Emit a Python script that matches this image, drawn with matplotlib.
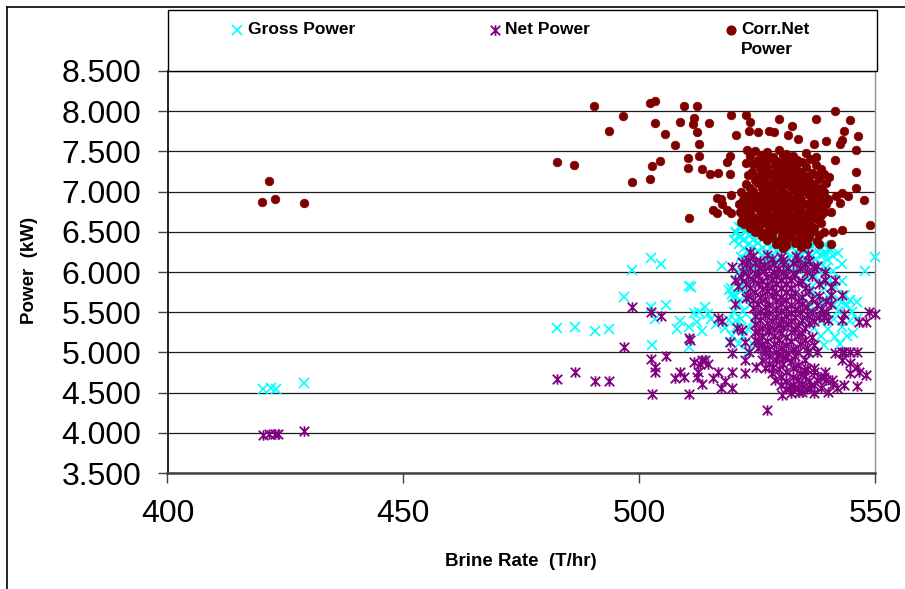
import matplotlib
matplotlib.use('Agg')
import matplotlib.pyplot as plt
from matplotlib.path import Path
from matplotlib.ticker import FuncFormatter, FixedLocator
from matplotlib.lines import Line2D
from matplotlib.patches import Rectangle

plt.rcParams['font.family'] = ['Liberation Sans', 'DejaVu Sans']

# ---------------- data ----------------
x_ticks = [400, 450, 500, 550]
y_ticks = [3500, 4000, 4500, 5000, 5500, 6000, 6500, 7000, 7500, 8000, 8500]
series_names = ["Gross Power", "Net Power", "Corr.Net\nPower"]

gross_pts = [
    (420.2, 4540), (421.9, 4553), (422.9, 4540), (429.0, 4622),
    (502.5, 6170), (504.7, 6103), (498.5, 6024), (510.6, 5829), (511.0, 5815),
    (496.7, 5684), (502.5, 5560), (505.6, 5585), (503.4, 5411), (482.6, 5300),
    (486.3, 5320), (490.6, 5262), (493.7, 5287), (508.6, 5395), (508.0, 5287),
    (510.5, 5312), (512.3, 5375), (512.6, 5506), (511.7, 5490), (502.8, 5096),
    (510.5, 5071), (513.4, 5265), (514.5, 5480), (516.2, 5350), (515.3, 5420),
    (550.0, 6187), (547.9, 6018), (546.2, 5630), (546.2, 5420), (545.4, 5240),
    (542.9, 5630), (542.9, 6100), (540.7, 6270), (517.6, 6070), (519.7, 5725),
    (521.6, 5830), (520.6, 5385), (519.2, 5130), (521.6, 6190), (544.8, 5651),
    (542.3, 5651), (539.2, 6230), (514.0, 5568), (520.0, 5694), (519.0, 5780),
    (521.1, 6440), (520.5, 6480), (522.6, 6500),
    (522.1, 6610), (524.2, 6590), (526.1, 6605), (528.2, 6595),
    (521.1, 6555), (523.2, 6545), (525.1, 6560), (527.2, 6540), (529.1, 6555), (531.2, 6545),
    (520.6, 6500), (522.6, 6510), (524.4, 6495), (526.6, 6505), (528.4, 6490), (530.6, 6505), (532.4, 6495),
    (521.6, 6450), (523.4, 6460), (525.6, 6445), (527.4, 6455), (529.6, 6440), (531.4, 6455), (533.6, 6445), (535.4, 6460),
    (520.1, 6400), (522.2, 6410), (524.1, 6395), (526.2, 6405), (528.1, 6390), (530.2, 6410), (532.1, 6395), (534.2, 6405), (536.1, 6390), (538.2, 6400),
    (521.2, 6350), (523.1, 6340), (525.2, 6355), (527.1, 6345), (529.2, 6360), (531.1, 6340), (533.2, 6355), (535.1, 6345), (537.2, 6350), (539.1, 6340),
    (522.2, 6300), (524.1, 6310), (526.2, 6295), (528.1, 6305), (530.2, 6290), (532.1, 6310), (534.2, 6295), (536.1, 6305), (538.6, 6300), (540.4, 6290),
    (523.1, 6250), (525.2, 6260), (527.1, 6245), (529.2, 6255), (531.1, 6240), (533.2, 6260), (535.1, 6245), (537.6, 6255), (539.4, 6250), (542.1, 6240),
    (524.2, 6200), (526.1, 6195), (528.2, 6210), (530.1, 6190), (532.2, 6205), (534.1, 6195), (536.6, 6200), (538.4, 6210), (541.1, 6195),
    (522.6, 6150), (525.1, 6145), (527.2, 6160), (529.1, 6140), (531.2, 6155), (533.1, 6145), (535.6, 6150), (537.4, 6160), (540.1, 6145),
    (523.4, 6100), (526.1, 6090), (528.2, 6110), (530.1, 6095), (532.2, 6105), (534.1, 6090), (536.2, 6100), (538.6, 6095),
    (522.1, 6050), (525.2, 6045), (527.6, 6060), (531.1, 6040), (535.2, 6055), (537.1, 6045), (539.6, 6050),
    (521.1, 6000), (523.6, 5995), (526.4, 6010), (533.1, 5990), (536.1, 6005), (538.2, 5995), (541.1, 6010),
    (520.6, 5900), (522.4, 5890), (535.6, 5910), (538.1, 5895), (540.4, 5905), (543.1, 5890),
    (519.4, 5800), (521.6, 5810), (523.4, 5795), (536.4, 5805), (539.1, 5795), (541.6, 5810),
    (520.6, 5700), (522.4, 5710), (534.6, 5695), (537.4, 5705), (540.1, 5690), (543.6, 5710),
    (521.1, 5600), (523.6, 5590), (536.1, 5610), (538.4, 5595), (541.2, 5605), (544.1, 5590),
    (520.1, 5500), (522.1, 5510), (525.1, 5495), (537.1, 5505), (539.6, 5490), (542.1, 5510), (545.1, 5500),
    (519.1, 5400), (521.6, 5410), (524.1, 5395), (535.6, 5405), (538.6, 5390), (541.4, 5410), (544.6, 5395),
    (518.1, 5300), (520.6, 5310), (523.1, 5290), (537.1, 5305), (540.1, 5295), (543.1, 5310),
    (519.6, 5200), (522.1, 5190), (538.6, 5205), (541.6, 5195), (544.1, 5210),
    (521.1, 5100), (524.1, 5110), (539.1, 5095), (542.6, 5105),
    (523.1, 5000), (527.1, 5010), (536.1, 4995),
]

net_pts = [
    (420.2, 3972), (421.6, 3990), (422.7, 3990), (423.4, 3985), (429.0, 4025),
    (498.5, 5568), (502.5, 5506), (504.7, 5450), (496.7, 5063), (482.6, 4672),
    (486.3, 4752), (490.6, 4640), (493.7, 4640), (502.5, 4917), (505.6, 4951),
    (503.4, 4822), (503.4, 4752), (502.8, 4478), (510.5, 4478), (510.5, 5176),
    (510.8, 5150), (508.6, 4752), (507.7, 4680), (509.6, 4700), (511.7, 4885),
    (512.5, 4760), (512.2, 4700), (513.3, 4610), (513.3, 4905),
    (517.5, 5395), (519.7, 6062), (521.9, 5282), (527.2, 4285), (548.1, 5378),
    (550.0, 5478), (548.1, 4718), (546.2, 5006), (546.2, 4815), (546.2, 4580),
    (542.9, 5718), (540.7, 5815), (540.7, 5720), (542.9, 5400), (542.9, 5000),
    (520.7, 5299), (519.3, 5133), (522.5, 5133), (525.3, 5133), (519.6, 4990),
    (514.0, 4905), (512.9, 4850), (514.6, 4850), (516.8, 4760), (519.6, 4760),
    (515.6, 4680), (518.1, 4640), (519.7, 4553), (517.3, 4560), (522.5, 4905),
    (522.5, 4740), (528.9, 4656), (530.3, 4470), (533.8, 4510), (532.0, 4580),
    (536.3, 4560), (537.8, 4660), (539.5, 4760), (540.9, 4660), (542.0, 4553),
    (543.4, 4600), (544.8, 4740), (546.6, 4760), (544.8, 4865), (543.0, 4905),
    (544.8, 5000), (543.4, 5000), (541.6, 4990), (546.6, 5382), (537.8, 5000),
    (535.7, 5000), (533.6, 5000), (537.1, 4800), (539.2, 4700), (535.0, 4780),
    (531.0, 4945), (528.3, 4820), (529.4, 4965), (526.5, 5030), (524.7, 4820),
    (523.3, 5000), (525.3, 5260), (527.4, 5260), (533.1, 4560), (534.6, 4590),
    (539.5, 6003), (541.6, 5905), (539.3, 5895), (537.6, 6070), (535.8, 6230),
    (521.8, 6130), (523.6, 6250), (520.4, 5900), (521.5, 5940), (516.8, 5424),
    (520.4, 5600), (521.0, 5820), (522.7, 5680), (548.7, 5506), (543.4, 5480),
    (539.2, 5440),
    (524.1, 6200), (527.2, 6215), (530.1, 6190), (533.2, 6205),
    (523.1, 6150), (525.6, 6140), (528.1, 6160), (530.6, 6145), (533.6, 6155), (536.1, 6140),
    (522.6, 6100), (524.6, 6110), (526.4, 6090), (528.6, 6105), (530.4, 6095), (532.6, 6110), (535.1, 6095),
    (523.6, 6050), (525.4, 6045), (527.6, 6060), (529.4, 6040), (531.6, 6055), (534.1, 6045), (537.1, 6055),
    (522.1, 6000), (524.6, 5990), (526.4, 6010), (528.6, 5995), (530.4, 6005), (532.6, 5990), (535.6, 6005),
    (523.1, 5950), (525.1, 5960), (527.1, 5940), (529.1, 5955), (531.1, 5945), (533.1, 5960), (536.6, 5945),
    (524.1, 5900), (526.1, 5890), (528.1, 5910), (530.1, 5895), (532.1, 5905), (534.6, 5890),
    (522.6, 5850), (525.1, 5860), (527.1, 5840), (529.1, 5855), (531.1, 5845), (533.6, 5860), (538.1, 5845),
    (523.6, 5800), (526.1, 5790), (528.1, 5810), (530.1, 5795), (532.1, 5805), (535.1, 5795),
    (524.6, 5750), (527.1, 5760), (529.1, 5740), (531.1, 5755), (533.1, 5745), (536.1, 5760),
    (523.1, 5700), (525.6, 5690), (528.1, 5710), (530.1, 5695), (532.1, 5705), (534.6, 5690), (538.1, 5705),
    (524.1, 5650), (526.6, 5660), (529.1, 5640), (531.1, 5655), (533.6, 5645), (536.6, 5660), (539.6, 5645),
    (525.1, 5600), (527.6, 5590), (530.1, 5610), (532.1, 5595), (534.6, 5605), (537.6, 5590), (540.6, 5605),
    (524.1, 5550), (526.6, 5560), (529.1, 5540), (531.1, 5555), (533.1, 5545), (535.6, 5560), (538.6, 5545),
    (525.6, 5500), (527.6, 5490), (530.1, 5510), (532.1, 5495), (534.1, 5505), (536.6, 5490), (539.6, 5505),
    (524.6, 5450), (526.6, 5460), (529.1, 5440), (531.1, 5455), (533.1, 5445), (535.6, 5460), (538.1, 5445),
    (525.6, 5400), (528.1, 5390), (530.1, 5410), (532.1, 5395), (534.6, 5405), (537.1, 5390), (540.1, 5405),
    (524.6, 5350), (527.1, 5360), (529.6, 5340), (531.6, 5355), (533.6, 5345), (536.1, 5360),
    (526.1, 5300), (528.6, 5290), (530.6, 5310), (533.1, 5295), (535.1, 5305),
    (524.6, 5250), (527.6, 5260), (530.1, 5240), (532.1, 5255), (534.6, 5245),
    (526.1, 5200), (528.6, 5210), (531.1, 5190), (533.6, 5205), (536.6, 5195),
    (524.6, 5150), (527.1, 5140), (529.6, 5160), (532.1, 5145), (535.1, 5155),
    (526.1, 5100), (528.6, 5110), (531.1, 5090), (534.1, 5105), (537.1, 5095),
    (525.1, 5050), (527.6, 5040), (530.1, 5060), (532.6, 5045), (535.6, 5055),
    (526.6, 5000), (529.1, 5010), (531.6, 4990),
    (527.6, 4950), (530.6, 4940), (533.1, 4960),
    (526.1, 4900), (529.1, 4910), (532.1, 4890), (535.1, 4905),
    (527.6, 4850), (530.6, 4860), (533.6, 4840),
    (526.6, 4800), (529.6, 4790), (532.6, 4810), (535.6, 4795),
    (528.1, 4750), (531.1, 4760), (534.1, 4740), (537.1, 4755),
    (530.1, 4700), (532.6, 4690), (535.1, 4710), (538.6, 4695),
    (531.1, 4650), (533.6, 4660), (536.1, 4640), (539.6, 4655),
    (530.1, 4600), (532.6, 4590), (534.6, 4610), (537.1, 4595), (541.1, 4605),
    (531.1, 4550), (533.6, 4560), (535.6, 4540), (538.6, 4555),
    (532.1, 4500), (534.6, 4510), (537.1, 4490), (540.1, 4505),
]

corr_pts = [
    (421.5, 7135), (420.0, 6874), (422.8, 6908), (428.9, 6862),
    (490.5, 8065), (502.4, 8098), (503.3, 8127), (509.5, 8065), (512.2, 8065),
    (496.6, 7936), (493.5, 7754), (503.4, 7853), (508.6, 7870), (511.6, 7920),
    (511.5, 7837), (505.5, 7720), (512.3, 7738), (507.6, 7576), (512.6, 7592),
    (482.5, 7364), (486.2, 7331), (504.5, 7380), (502.7, 7314), (510.3, 7414),
    (510.3, 7297), (512.6, 7446), (498.4, 7123), (502.4, 7153), (510.6, 6668),
    (514.7, 7853), (519.5, 7949), (522.6, 7949), (523.6, 7870), (520.5, 7704),
    (523.3, 7754), (525.3, 7737), (527.5, 7754), (528.5, 7737), (529.6, 7903),
    (532.4, 7820), (531.5, 7704), (533.6, 7658), (537.5, 7903), (541.6, 7999),
    (544.7, 7886), (543.4, 7754), (546.5, 7691), (543.0, 7642), (542.5, 7592),
    (539.6, 7624), (537.0, 7592), (546.0, 7513), (535.4, 7480), (537.5, 7430),
    (537.5, 7330), (541.6, 7397), (546.0, 7250), (546.0, 7050), (547.7, 6900),
    (549.0, 6590), (543.0, 6979), (541.8, 6940), (540.2, 7185), (539.1, 7220),
    (518.6, 7372), (519.2, 7446), (522.9, 7513), (522.7, 7360), (516.8, 7235),
    (515.0, 7219), (513.4, 7285), (519.2, 7219), (516.4, 6924), (517.6, 6850),
    (518.6, 6770), (515.6, 6767), (519.5, 6960), (516.4, 6737), (519.5, 6737),
    (517.4, 6908), (541.1, 6492), (542.9, 6525), (540.7, 6345), (542.6, 6860),
    (544.3, 6940), (540.0, 6900), (540.7, 6745), (521.5, 6625),
    (524.5, 7510), (527.2, 7490), (529.6, 7520), (531.1, 7470),
    (523.4, 7445), (526.1, 7460), (528.3, 7430), (530.4, 7455), (532.6, 7440),
    (525.2, 7395), (527.6, 7410), (529.1, 7380), (531.3, 7405), (533.4, 7390), (536.2, 7410),
    (524.1, 7345), (526.4, 7360), (528.7, 7335), (530.2, 7355), (532.1, 7340), (534.6, 7365),
    (525.6, 7295), (527.1, 7310), (529.4, 7285), (531.6, 7305), (533.2, 7290), (535.4, 7310), (538.6, 7280),
    (524.0, 7245), (526.2, 7255), (528.1, 7235), (530.1, 7260), (532.4, 7240), (534.2, 7250), (536.6, 7235),
    (523.1, 7205), (525.4, 7190), (527.6, 7210), (529.2, 7195), (531.1, 7205), (533.2, 7185), (535.1, 7200), (537.6, 7210),
    (524.6, 7150), (526.4, 7140), (528.6, 7160), (530.4, 7145), (532.2, 7155), (534.1, 7140), (536.1, 7150), (538.2, 7160),
    (522.6, 7100), (525.1, 7110), (527.2, 7090), (529.1, 7105), (531.4, 7095), (533.6, 7110), (535.4, 7090), (537.1, 7100), (539.6, 7110),
    (523.6, 7050), (526.1, 7040), (528.2, 7060), (530.1, 7045), (532.1, 7055), (534.6, 7040), (536.4, 7060), (538.6, 7050),
    (521.6, 7000), (524.2, 7010), (526.6, 6990), (528.4, 7005), (530.6, 6995), (533.1, 7010), (535.1, 6990), (537.2, 7005), (539.1, 6995),
    (523.1, 6950), (525.2, 6940), (527.4, 6960), (529.6, 6945), (531.4, 6955), (533.6, 6940), (536.1, 6960), (538.1, 6950),
    (522.1, 6900), (524.4, 6910), (526.6, 6890), (528.1, 6905), (530.2, 6895), (532.1, 6910), (534.4, 6890), (536.6, 6905), (538.4, 6895), (540.1, 6910),
    (521.2, 6850), (523.6, 6840), (525.4, 6860), (527.6, 6845), (529.4, 6855), (531.2, 6840), (533.1, 6860), (535.6, 6845), (537.4, 6855), (539.6, 6840),
    (522.6, 6800), (524.4, 6810), (526.6, 6790), (528.4, 6805), (530.6, 6795), (532.4, 6810), (534.1, 6790), (536.2, 6805), (538.1, 6795),
    (521.4, 6750), (523.6, 6745), (525.6, 6760), (527.1, 6740), (529.2, 6755), (531.6, 6745), (533.4, 6760), (535.1, 6740), (537.2, 6755), (539.1, 6745),
    (522.1, 6700), (524.1, 6690), (526.2, 6710), (528.1, 6695), (530.1, 6705), (532.2, 6690), (534.6, 6710), (536.4, 6695), (538.6, 6705),
    (523.2, 6650), (525.1, 6660), (527.2, 6640), (529.6, 6655), (531.1, 6645), (533.2, 6660), (535.6, 6640), (537.6, 6655),
    (522.2, 6600), (524.6, 6590), (526.4, 6610), (528.6, 6595), (530.4, 6605), (532.6, 6590), (534.1, 6610), (536.2, 6595), (538.6, 6605),
    (523.6, 6550), (525.4, 6540), (527.6, 6560), (529.4, 6545), (531.6, 6555), (533.4, 6540), (535.2, 6560), (537.1, 6545),
    (524.6, 6500), (526.6, 6490), (528.4, 6510), (530.6, 6495), (532.4, 6505), (534.6, 6490), (536.4, 6500), (539.1, 6495),
    (526.1, 6450), (528.1, 6440), (530.2, 6455), (532.1, 6445), (534.2, 6450), (536.1, 6440), (538.1, 6455),
    (527.2, 6400), (529.6, 6390), (531.4, 6405), (533.6, 6395), (535.4, 6400), (537.6, 6390),
    (529.1, 6350), (531.2, 6340), (533.1, 6355), (535.6, 6345), (538.1, 6350),
    (530.6, 6300), (534.4, 6310),
]

# ---------------- styling ----------------
W, H = 905, 589
GROSS_C = '#00FFFF'
NET_C = '#800080'
CORR_C = '#800000'


def fx(px):
    return px / W


def fy(py):
    return 1 - py / H


star = Path([(-1, -1), (1, 1), (-1, 1), (1, -1), (0, -1.1), (0, 1.1)],
            [Path.MOVETO, Path.LINETO, Path.MOVETO, Path.LINETO, Path.MOVETO, Path.LINETO])

fig = plt.figure(figsize=(W / 100, H / 100), dpi=100)
fig.patch.set_facecolor('white')
ax = fig.add_axes([fx(167.5), fy(473), (875 - 167.5) / W, (473 - 71) / H])

gx, gy = zip(*gross_pts)
nx, ny = zip(*net_pts)
cx, cy = zip(*corr_pts)

ax.plot(gx, gy, ls='none', marker='x', ms=6.5, mew=1.2, color=GROSS_C, clip_on=False, zorder=3)
ax.plot(nx, ny, ls='none', marker=star, ms=7.5, mew=1.3, color=NET_C, mfc='none', clip_on=False, zorder=4)
ax.plot(cx, cy, ls='none', marker='o', ms=6.3, mew=0.4, mfc=CORR_C, mec=CORR_C, clip_on=False, zorder=5)

ax.set_xlim(x_ticks[0], x_ticks[-1])
ax.set_ylim(y_ticks[0], y_ticks[-1])
ax.xaxis.set_major_locator(FixedLocator(x_ticks))
ax.yaxis.set_major_locator(FixedLocator(y_ticks))
ax.yaxis.set_major_formatter(FuncFormatter(lambda v, p: f"{int(v) // 1000}.{int(v) % 1000:03d}"))
ax.yaxis.grid(True, color='#1a1a1a', lw=0.9)
ax.set_axisbelow(True)
ax.tick_params(axis='both', direction='out', length=7, width=1, color='#404040',
               labelsize=23, pad=12)

ax.spines['top'].set_visible(False)
ax.spines['left'].set_color('#202020')
ax.spines['left'].set_linewidth(1.4)
ax.spines['bottom'].set_color('#404040')
ax.spines['bottom'].set_linewidth(1.8)
ax.spines['right'].set_color('#909090')
ax.spines['right'].set_linewidth(1.0)

# outer chart border (left and top edges visible)
fig.add_artist(Line2D([fx(6.5), fx(6.5)], [fy(6.5), 0], transform=fig.transFigure, color='black', lw=1.2))
fig.add_artist(Line2D([fx(6.5), 1], [fy(6.5), fy(6.5)], transform=fig.transFigure, color='black', lw=1.2))

# legend box
fig.add_artist(Rectangle((fx(167.5), fy(71)), (877 - 167.5) / W, (71 - 10) / H,
                         transform=fig.transFigure, facecolor='white', edgecolor='black', lw=1.0))
leg_font = dict(fontsize=12.5, fontweight='bold', va='center', ha='left')
fig.add_artist(Line2D([fx(237)], [fy(30)], transform=fig.transFigure, ls='none', marker='x',
                      ms=6.5, mew=1.2, color=GROSS_C))
fig.text(fx(248), fy(29), series_names[0], **leg_font)
fig.add_artist(Line2D([fx(495)], [fy(30)], transform=fig.transFigure, ls='none', marker=star,
                      ms=7.5, mew=1.3, color=NET_C))
fig.text(fx(505), fy(29), series_names[1], **leg_font)
fig.add_artist(Line2D([fx(731)], [fy(30)], transform=fig.transFigure, ls='none', marker='o',
                      ms=6.3, mfc=CORR_C, mec=CORR_C))
corr_lines = series_names[2].split('\n')
fig.text(fx(741), fy(29), corr_lines[0], **leg_font)
fig.text(fx(741), fy(49), corr_lines[1], **leg_font)

# axis titles
fig.text(fx(30), fy(270), 'Power  (kW)', rotation=90, ha='center', va='center',
         fontsize=13.5, fontweight='bold')
fig.text(fx(521), fy(561), 'Brine Rate  (T/hr)', ha='center', va='center',
         fontsize=13.5, fontweight='bold')

fig.savefig('out.png', dpi=100, facecolor='white')
